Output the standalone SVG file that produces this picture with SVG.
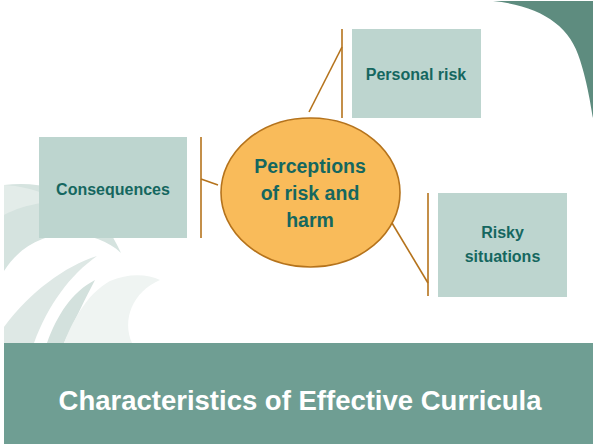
<svg xmlns="http://www.w3.org/2000/svg" width="593" height="444" viewBox="0 0 593 444">
<style>
.box{fill:#BDD5CF}
.lbl{font-family:"Liberation Sans",Arial,sans-serif;font-weight:bold;fill:#15675F;text-anchor:middle}
.con{stroke:#B5731C;stroke-width:1.6;fill:none}
</style>
<rect width="593" height="444" fill="#FFFFFF"/>
<g id="background">
<path d="M493,1 C540,6 570,25 580,60 C588,85 591,108 593,118 L593,1 Z" fill="#5E8C7F"/>
<path d="M4,185 C60,178 100,205 121,253 C95,228 35,222 4,271 Z" fill="#D5E3DF"/>
<path d="M4,185 C20,186 32,189 42,193 L42,203 C28,205 15,209 4,215 Z" fill="#E3ECE9"/>
<path d="M4,327 C30,292 65,266 97,256 C70,275 48,305 34,343 L4,343 Z" fill="#DEE8E5"/>
<path d="M47,343 C57,315 72,292 95,280 C86,297 75,320 64,343 Z" fill="#D3E1DD"/>
<path d="M64,343 C75,315 90,292 110,281 C128,273 148,274 160,280 C132,292 122,320 132,343 Z" fill="#EFF4F2"/>
</g>
<g id="connectors">
<line class="con" x1="342" y1="29" x2="342" y2="118"/>
<line class="con" x1="342" y1="47" x2="309" y2="112"/>
<line class="con" x1="201" y1="137" x2="201" y2="238"/>
<line class="con" x1="201" y1="179" x2="218" y2="185"/>
<line class="con" x1="428" y1="193" x2="428" y2="296"/>
<line class="con" x1="392" y1="223" x2="428" y2="283"/>
</g>
<g id="node-center">
<ellipse cx="310.5" cy="192.5" rx="89.5" ry="74.5" fill="#F9BB5A" stroke="#B5731C" stroke-width="1.6"/>
<text class="lbl" x="310" y="173" font-size="19.5">Perceptions</text>
<text class="lbl" x="310" y="200" font-size="19.5">of risk and</text>
<text class="lbl" x="310" y="227" font-size="19.5">harm</text>
</g>
<g id="node-personal">
<rect class="box" x="352" y="29" width="129" height="89"/>
<text class="lbl" x="416" y="80" font-size="16">Personal risk</text>
</g>
<g id="node-consequences">
<rect class="box" x="39" y="137" width="148" height="101"/>
<text class="lbl" x="113" y="195" font-size="16">Consequences</text>
</g>
<g id="node-risky">
<rect class="box" x="438" y="193" width="129" height="104"/>
<text class="lbl" x="502.5" y="238" font-size="16">Risky</text>
<text class="lbl" x="502.5" y="262" font-size="16">situations</text>
</g>
<g id="title">
<rect x="4" y="343" width="589" height="101" fill="#6F9E93"/>
<text x="300" y="410" font-family="'Liberation Sans',Arial,sans-serif" font-weight="bold" font-size="27.5" fill="#FFFFFF" text-anchor="middle">Characteristics of Effective Curricula</text>
</g>
</svg>
